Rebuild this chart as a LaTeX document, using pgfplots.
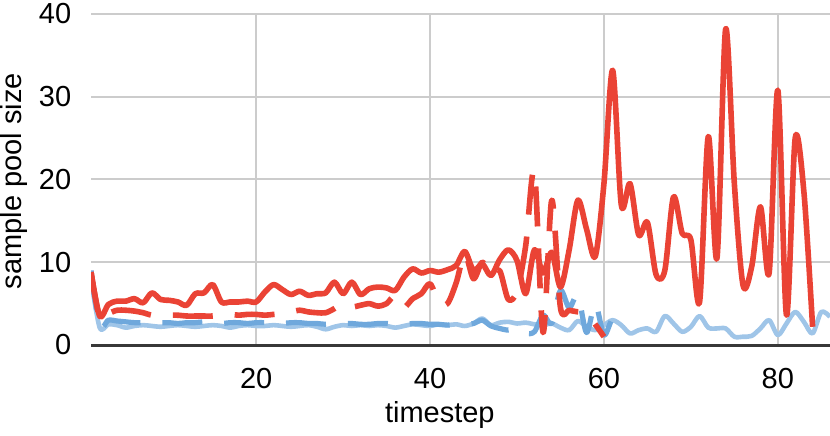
\documentclass[border=0pt]{standalone}
\usepackage{pgfplots}
\pgfplotsset{compat=1.18}
\usepackage{fontspec}
\setmainfont{Liberation Sans}
\definecolor{cred}{HTML}{EA4335}
\definecolor{cblue}{HTML}{6FA8DC}
\definecolor{clight}{HTML}{9FC5E8}
\begin{document}
\fontsize{14.5bp}{17bp}\selectfont
\begin{tikzpicture}
\begin{axis}[
  at={(0,0)}, anchor=south west,
  scale only axis, width=369.5bp, height=165.5bp,
  xmin=1, xmax=86, ymin=0, ymax=40,
  xtick={20,40,60,80}, ytick={0,10,20,30,40},
  axis line style={draw=none},
  major tick length=0pt,
  grid=major, grid style={draw=black!20, line width=1bp},
  extra y ticks={0}, extra y tick labels={},
  extra y tick style={grid style={draw=black!78, line width=1.5bp}},
  /pgf/number format/assume math mode=true,
  tick label style={font=\fontsize{14.5bp}{17bp}\selectfont, inner sep=0pt},
  xticklabel style={anchor=north, yshift=-11.5bp},
  yticklabel style={anchor=east, xshift=-9.7bp},
  xlabel={timestep}, ylabel={sample pool size},
  every axis x label/.style={at={(axis description cs:0.472,-0.2356)}, anchor=base, font=\fontsize{14.5bp}{17bp}\selectfont},
  every axis y label/.style={at={(axis description cs:-0.0934,0.495)}, anchor=base, rotate=90, font=\fontsize{14.5bp}{17bp}\selectfont},
  no markers,
  every axis plot/.append style={line join=round, smooth, tension=0.5},
]
% light blue solid
\addplot[clight, line width=2.3bp] table {
x y
1 8.0
2 2.1
3 2.5
4 2.4
5 2.1
6 2.3
7 2.4
8 2.3
9 2.2
10 2.3
11 2.4
12 2.3
13 2.2
14 2.3
15 2.4
16 2.3
17 2.1
18 2.3
19 2.4
20 2.3
21 2.3
22 2.4
23 2.3
24 2.2
25 2.3
26 2.4
27 2.2
28 1.9
29 2.2
30 2.4
31 2.3
32 2.4
33 2.3
34 2.4
35 2.3
36 2.1
37 2.3
38 2.5
39 2.4
40 2.3
41 2.5
42 2.4
43 2.5
44 2.3
45 2.6
46 3.2
47 2.4
48 2.7
49 2.8
50 2.6
51 2.7
52 2.5
53 2.4
54 2.6
55 2.1
56 1.8
57 2.9
58 2.2
59 1.8
60 2.4
61 3.0
62 2.4
63 1.4
64 1.8
65 2.0
66 1.6
67 3.5
68 2.6
69 1.6
70 2.2
71 3.5
72 2.1
73 2.0
74 2.0
75 1.0
76 1.0
77 1.1
78 2.0
79 3.0
80 1.2
81 2.6
82 4.0
83 2.8
84 1.4
85 4.0
86 3.4
};
% dark blue dashed
\addplot[cblue, line width=2.6bp, dash pattern=on 20bp off 11bp] table {
x y
1 9.0
2 2.3
3 3.0
4 2.9
5 2.8
6 2.7
7 2.7
8 2.8
9 2.7
10 2.7
11 2.6
12 2.7
13 2.7
14 2.8
15 2.7
16 2.6
17 2.7
18 2.7
19 2.6
20 2.7
21 2.7
22 2.6
23 2.6
24 2.7
25 2.7
26 2.6
27 2.6
28 2.5
29 2.6
30 2.6
31 2.6
32 2.5
33 2.5
34 2.6
35 2.6
36 2.5
37 2.5
38 2.6
39 2.6
40 2.5
41 2.5
42 2.4
43 2.5
44 2.5
45 2.6
46 3.0
47 2.3
48 2.0
49 1.8
50 2.0
51 1.4
52 1.6
53 3.6
54 2.6
55 6.6
56 4.5
57 6.0
58 1.5
59 5.0
60 1.2
61 3.2
62 2.5
};
% red dashed
\addplot[cred, line width=2.8bp, dash pattern=on 20bp off 11bp] table {
x y
1 8.8
2 3.3
3 3.8
4 4.2
5 4.2
6 4.1
7 3.9
8 3.6
9 3.6
10 3.6
11 3.6
12 3.5
13 3.5
14 3.5
15 3.5
16 3.6
17 3.7
18 3.6
19 3.7
20 3.7
21 3.6
22 3.7
23 3.8
24 4.0
25 4.2
26 4.0
27 3.9
28 3.9
29 4.4
30 5.0
31 4.6
32 4.8
33 5.0
34 4.7
35 5.0
36 6.0
37 4.6
38 5.6
39 6.2
40 7.4
41 5.2
42 5.0
43 7.5
44 11.0
45 8.0
46 10.0
47 8.5
48 9.0
49 5.5
50 6.5
51 12.0
52 21.0
53 1.5
54 17.5
55 4.5
56 4.2
57 4.0
58 3.8
59 2.5
60 1.0
};
% red solid
\addplot[cred, line width=2.8bp] table {
x y
1 8.8
2 3.5
3 4.9
4 5.3
5 5.3
6 5.6
7 5.1
8 6.3
9 5.5
10 5.4
11 5.2
12 4.8
13 6.2
14 6.3
15 7.3
16 5.2
17 5.2
18 5.2
19 5.3
20 5.2
21 6.4
22 7.3
23 6.7
24 6.1
25 6.5
26 6.0
27 6.2
28 6.3
29 7.6
30 6.2
31 7.6
32 6.1
33 6.8
34 7.0
35 6.9
36 6.6
37 8.2
38 9.2
39 8.7
40 9.0
41 8.8
42 9.1
43 9.6
44 11.3
45 9.0
46 9.8
47 8.4
48 10.3
49 11.5
50 10.2
51 6.2
52 11.5
53 8.7
54 11.2
55 7.0
56 11.5
57 17.5
58 14.0
59 10.7
60 19.5
61 33.2
62 16.9
63 19.5
64 13.3
65 14.8
66 8.5
67 9.0
68 17.9
69 13.5
70 12.7
71 5.2
72 25.2
73 10.5
74 38.2
75 19.5
76 7.2
77 9.5
78 16.7
79 8.7
80 30.8
81 3.6
82 25.0
83 18.5
84 2.2
};
\end{axis}
\pgfresetboundingbox
\useasboundingbox (-45.5bp,-45.5bp) rectangle (369.5bp,172.5bp);
\end{tikzpicture}
\end{document}
